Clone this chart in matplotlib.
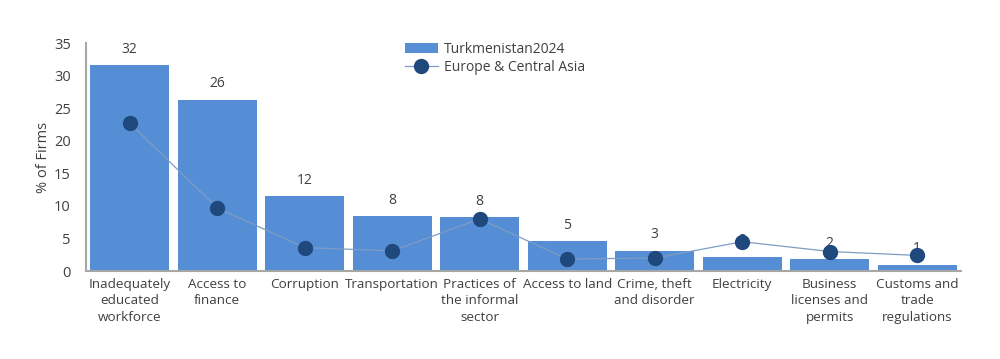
import matplotlib
matplotlib.use("Agg")
import matplotlib.pyplot as plt
import numpy as np

categories = ["Inadequately\neducated\nworkforce", "Access to\nfinance", "Corruption",
              "Transportation", "Practices of\nthe informal\nsector", "Access to land",
              "Crime, theft\nand disorder", "Electricity", "Business\nlicenses and\npermits",
              "Customs and\ntrade\nregulations"]
turkmenistan = [31.6, 26.3, 11.5, 8.4, 8.25, 4.6, 3.1, 2.2, 1.8, 1.0]
eca = [22.7, 9.7, 3.6, 3.1, 8.0, 1.85, 2.0, 4.5, 3.0, 2.4]
yticks = [0, 5, 10, 15, 20, 25, 30, 35]

plt.rcParams['font.family'] = ['Open Sans', 'DejaVu Sans']
text_color = "#404040"

fig = plt.figure(figsize=(10, 3.59), dpi=100)
ax = fig.add_axes([0.086, 0.245, 0.875, 0.635])

x = np.arange(len(categories))
bars = ax.bar(x, turkmenistan, width=0.9, color="#558ED5", label="Turkmenistan2024", zorder=2)
for xi, v in zip(x, turkmenistan):
    ax.annotate(f"{v:.0f}", (xi, v), xytext=(0, 16), textcoords="offset pixels",
                ha="center", va="center", fontsize=10, color=text_color, zorder=3)
line, = ax.plot(x, eca, color="#7F9CC4", linewidth=0.9, marker="o", markersize=10,
                markerfacecolor="#1F497D", markeredgecolor="#1F497D",
                label="Europe & Central Asia", zorder=4)

ax.set_xlim(-0.5, 9.5)
ax.set_ylim(0, 35)
ax.set_yticks(yticks)
ax.set_xticks(x)
ax.set_xticklabels(categories, fontsize=9.7, color=text_color, linespacing=1.35)
ax.tick_params(axis="y", labelsize=10.5, colors=text_color, length=0, pad=11)
ax.tick_params(axis="x", length=0, pad=5)
ax.set_ylabel("% of Firms", fontsize=10.5, color=text_color, labelpad=2)

for s in ["top", "right"]:
    ax.spines[s].set_visible(False)
for s in ["left", "bottom"]:
    ax.spines[s].set_color("#A6A6A6")
    ax.spines[s].set_linewidth(1.5)

leg = ax.legend([bars, line], ["Turkmenistan2024", "Europe & Central Asia"],
                loc="upper left", bbox_to_anchor=(0.35, 1.06), frameon=False,
                fontsize=10, handlelength=2.4, handletextpad=0.4, labelspacing=0.2)
for t in leg.get_texts():
    t.set_color(text_color)

fig.savefig("out.png", dpi=100)
